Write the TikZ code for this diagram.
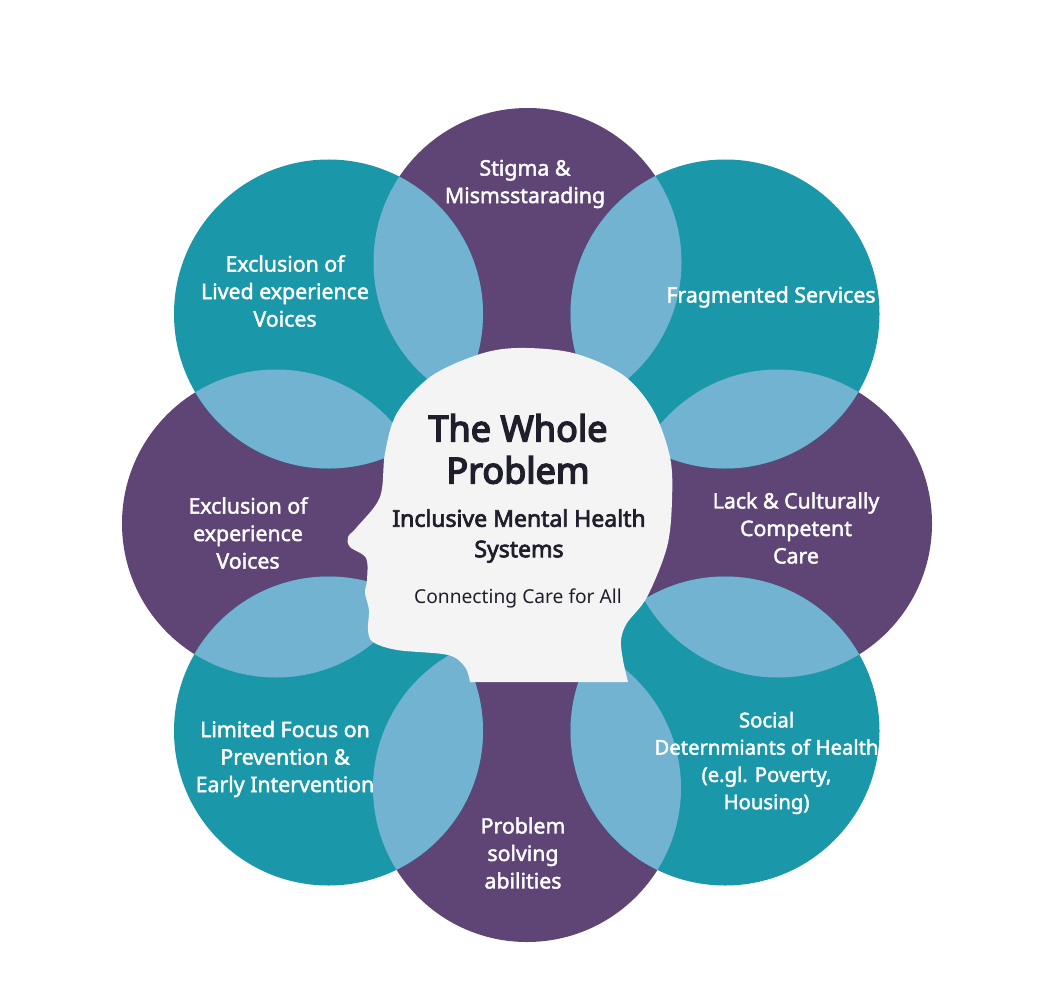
\documentclass[tikz,border=0pt]{standalone}
\usepackage{fontspec}
\setmainfont{Noto Sans}
\newfontfamily\labelfont[FakeBold=2]{Noto Sans}
\newfontfamily\titlefont[FakeBold=4]{Noto Sans}
\newfontfamily\subfont[FakeBold=3]{Noto Sans}
\definecolor{plum}{HTML}{5E4576}
\definecolor{tealc}{HTML}{1A97A8}
\definecolor{lens}{HTML}{72B3D2}
\definecolor{headc}{HTML}{F4F4F5}
\definecolor{ink}{HTML}{1F1E2B}
\tikzset{
  petal/.style={align=center,text=white,font=\labelfont\fontsize{21.3}{27.5}\selectfont,inner sep=0pt},
  headtitle/.style={align=center,text=ink,font=\titlefont\fontsize{36}{42}\selectfont,inner sep=0pt},
  headsub/.style={align=center,text=ink,font=\subfont\fontsize{23}{30.5}\selectfont,inner sep=0pt},
  headtag/.style={align=center,text=ink,font=\fontsize{19.2}{24}\selectfont,inner sep=0pt},
}
\newcommand{\circA}{(527.5,262) circle (154)}
\newcommand{\circB}{(725,314) circle (154.5)}
\newcommand{\circC}{(778,523.5) circle (154)}
\newcommand{\circD}{(725,731) circle (154.5)}
\newcommand{\circE}{(527,788) circle (154)}
\newcommand{\circF}{(328.5,731) circle (154.5)}
\newcommand{\circG}{(276,523.5) circle (154)}
\newcommand{\circH}{(328.5,314) circle (154.5)}
\newcommand{\lensof}[2]{\begin{scope}\clip #1;\fill[lens] #2;\end{scope}}
\begin{document}
\begin{tikzpicture}[x=1pt,y=-1pt]
\useasboundingbox (0,0) rectangle (1056,992);
\fill[white] (0,0) rectangle (1056,992);
\fill[plum] \circA; \fill[plum] \circC; \fill[plum] \circE; \fill[plum] \circG;
\fill[tealc] \circB; \fill[tealc] \circD; \fill[tealc] \circF; \fill[tealc] \circH;
\lensof{\circA}{\circB}
\lensof{\circB}{\circC}
\lensof{\circC}{\circD}
\lensof{\circD}{\circE}
\lensof{\circE}{\circF}
\lensof{\circF}{\circG}
\lensof{\circG}{\circH}
\lensof{\circH}{\circA}
\fill[headc] plot[smooth,tension=0.55] coordinates {
 (470,682) (465,667) (448,655) (397,650) (373,642) (368,630) (369,610) (365,593) (367,580) (366,558)
 (350,547) (348,537) (357,527) (380,497) (385,453) (397,413) (430,377) (477,355) (517,348) (573,353)
 (623,375) (653,410) (670,457) (672,500) (667,547) (647,597) (627,623) (621,640) (623,660) (628,682)} -- cycle;
\node[petal] (stigma) at (525,184) {Stigma \&\\Mismsstarading};
\node[petal] (frag) at (771,297) {Fragmented Services};
\node[petal] (lack) at (796,528) {Lack \& Culturally\\Competent\\Care};
\node[petal,font=\labelfont\fontsize{20.3}{27.3}\selectfont] (social) at (766.5,763) {Social\\Deternmiants of Health\\(e.gl. Poverty,\\Housing)};
\node[petal] (solve) at (523,853) {Problem\\solving\\abilities};
\node[petal] (limited) at (285,759) {Limited Focus on\\Prevention \&\\Early Intervention};
\node[petal] (exper) at (248,533) {Exclusion of\\experience\\Voices};
\node[petal] (lived) at (285,291) {Exclusion of\\Lived experience\\Voices};
\node[headtitle] (title) at (518,449) {The Whole\\Problem};
\node[headsub] (sub) at (519,536) {Inclusive Mental Health\\Systems};
\node[headtag] (tag) at (518,598) {Connecting Care for All};
\end{tikzpicture}
\end{document}
